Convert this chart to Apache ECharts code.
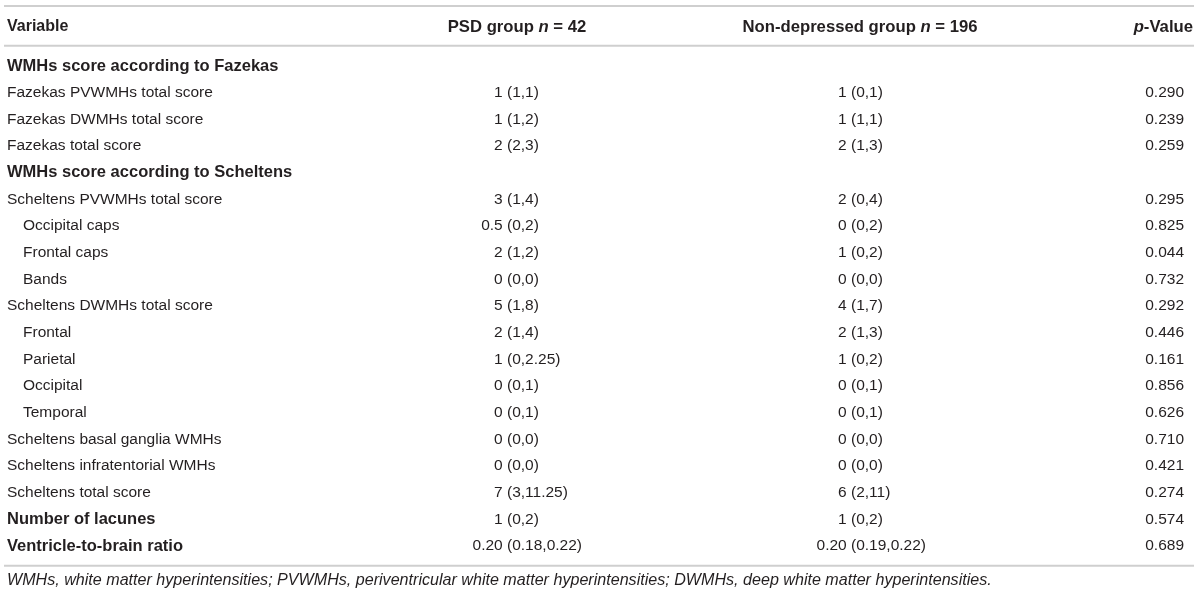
<!DOCTYPE html>
<html lang="en">

<head>
    <meta charset="UTF-8">
    <script src="https://cdn.jsdelivr.net/npm/echarts@6/dist/echarts.min.js"></script>
    <title>WMHs table</title>
    <style>
        html, body { margin: 0; padding: 0; background: #fff; }
    </style>
</head>

<body>
    <div id="main" style="width: 1200px;height: 597px;"></div>

    <script>
        // table rows (top to bottom)
        var variables = [
            'WMHs score according to Fazekas',
            'Fazekas PVWMHs total score',
            'Fazekas DWMHs total score',
            'Fazekas total score',
            'WMHs score according to Scheltens',
            'Scheltens PVWMHs total score',
            'Occipital caps',
            'Frontal caps',
            'Bands',
            'Scheltens DWMHs total score',
            'Frontal',
            'Parietal',
            'Occipital',
            'Temporal',
            'Scheltens basal ganglia WMHs',
            'Scheltens infratentorial WMHs',
            'Scheltens total score',
            'Number of lacunes',
            'Ventricle-to-brain ratio'
        ];
        // 0 = heading, 1 = variable, 2 = sub-variable
        var levels = [0, 1, 1, 1, 0, 1, 2, 2, 2, 1, 2, 2, 2, 2, 1, 1, 1, 0, 0];

        var psdMedian = ['', '1', '1', '2', '', '3', '0.5', '2', '0', '5', '2', '1', '0', '0', '0', '0', '7', '1', '0.20'];
        var psdIQR = ['', '1,1', '1,2', '2,3', '', '1,4', '0,2', '1,2', '0,0', '1,8', '1,4', '0,2.25', '0,1', '0,1', '0,0', '0,0', '3,11.25', '0,2', '0.18,0.22'];
        var ndMedian = ['', '1', '1', '2', '', '2', '0', '1', '0', '4', '2', '1', '0', '0', '0', '0', '6', '1', '0.20'];
        var ndIQR = ['', '0,1', '1,1', '1,3', '', '0,4', '0,2', '0,2', '0,0', '1,7', '1,3', '0,2', '0,1', '0,1', '0,0', '0,0', '2,11', '0,2', '0.19,0.22'];
        var pValues = ['', '0.290', '0.239', '0.259', '', '0.295', '0.825', '0.044', '0.732', '0.292', '0.446', '0.161', '0.856', '0.626', '0.710', '0.421', '0.274', '0.574', '0.689'];

        var footnote = 'WMHs, white matter hyperintensities; PVWMHs, periventricular white matter hyperintensities; DWMHs, deep white matter hyperintensities.';

        var FONT = '"Liberation Sans", Arial, Helvetica, sans-serif';
        var INK = '#231f20';
        var RULE = '#cfcfcf';
        // column anchors on the hidden x scale (0..1200 = page width)
        var colPsd = 507, colNd = 851, colP = 1184;

        var chartDom = document.getElementById('main');
        var myChart = echarts.init(chartDom);

        function cellText(txt, x, y, align) {
            return {
                type: 'text',
                style: {
                    text: txt, x: x, y: y,
                    align: align, verticalAlign: 'middle',
                    fontSize: 15.5, fontFamily: FONT,
                    fill: INK
                }
            };
        }

        var headRich = {
            b: { fontWeight: 'bold', fontSize: 16.7, fontFamily: FONT, fill: INK },
            bi: { fontWeight: 'bold', fontStyle: 'italic', fontSize: 16.7, fontFamily: FONT, fill: INK }
        };

        var option = {
            animation: false,
            grid: { left: 0, right: 0, top: 52.67, bottom: 37.67, containLabel: false },
            xAxis: { type: 'value', min: 0, max: 1200, show: false },
            yAxis: {
                type: 'category',
                inverse: true,
                data: variables,
                axisLine: { show: false },
                axisTick: { show: false },
                splitLine: { show: false },
                axisLabel: {
                    inside: true,
                    margin: 7,
                    align: 'left',
                    interval: 0,
                    color: INK,
                    fontFamily: FONT,
                    fontSize: 15.5,
                    formatter: function (val, idx) {
                        var lv = levels[idx];
                        if (lv === 0) return '{b|' + val + '}';
                        if (lv === 2) return '{s|' + val + '}';
                        return val;
                    },
                    rich: {
                        b: { fontWeight: 'bold', fontSize: 16.5, fontFamily: FONT, color: INK },
                        s: { padding: [0, 0, 0, 16], fontSize: 15.5, fontFamily: FONT, color: INK }
                    }
                }
            },
            graphic: [
                { type: 'line', shape: { x1: 4, y1: 6, x2: 1194, y2: 6 }, style: { stroke: RULE, lineWidth: 2 } },
                { type: 'line', shape: { x1: 4, y1: 45.7, x2: 1194, y2: 45.7 }, style: { stroke: RULE, lineWidth: 2 } },
                { type: 'line', shape: { x1: 4, y1: 565.7, x2: 1194, y2: 565.7 }, style: { stroke: RULE, lineWidth: 2 } },
                {
                    type: 'text', x: 7, y: 27,
                    style: {
                        text: 'Variable', verticalAlign: 'middle',
                        fontSize: 16, fontWeight: 'bold', fontFamily: FONT, fill: INK
                    }
                },
                {
                    type: 'text', x: 517, y: 27,
                    style: { text: '{b|PSD group }{bi|n}{b| = 42}', align: 'center', verticalAlign: 'middle', rich: headRich }
                },
                {
                    type: 'text', x: 860, y: 27,
                    style: { text: '{b|Non-depressed group }{bi|n}{b| = 196}', align: 'center', verticalAlign: 'middle', rich: headRich }
                },
                {
                    type: 'text', x: 1193, y: 27,
                    style: { text: '{bi|p}{b|-Value}', align: 'right', verticalAlign: 'middle', rich: headRich }
                },
                {
                    type: 'text', x: 7, y: 581,
                    style: {
                        text: footnote, verticalAlign: 'middle',
                        fontSize: 16.1, fontStyle: 'italic', fontFamily: FONT, fill: INK
                    }
                }
            ],
            series: [
                {
                    type: 'custom',
                    clip: false,
                    data: variables.map(function (v, i) { return [0, i]; }),
                    renderItem: function (params, api) {
                        var i = api.value(1);
                        var kids = [];
                        if (pValues[i]) {
                            var a = api.coord([colPsd, i]);
                            var b = api.coord([colNd, i]);
                            var c = api.coord([colP, i]);
                            kids.push(cellText(psdMedian[i] + ' ', a[0], a[1], 'right'));
                            kids.push(cellText('(' + psdIQR[i] + ')', a[0], a[1], 'left'));
                            kids.push(cellText(ndMedian[i] + ' ', b[0], b[1], 'right'));
                            kids.push(cellText('(' + ndIQR[i] + ')', b[0], b[1], 'left'));
                            kids.push(cellText(pValues[i], c[0], c[1], 'right'));
                        }
                        return { type: 'group', children: kids };
                    }
                }
            ]
        };
        myChart.setOption(option);
    </script>
</body>

</html>
